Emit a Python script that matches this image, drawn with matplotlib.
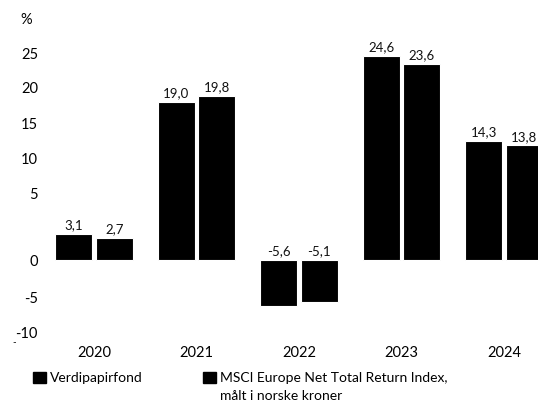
import matplotlib
matplotlib.use("Agg")
import matplotlib.pyplot as plt
from matplotlib.patches import Rectangle
import numpy as np

plt.rcParams['font.family'] = ['Lato', 'DejaVu Sans']

years = ['2020', '2021', '2022', '2023', '2024']
fund = [3.1, 19.0, -5.6, 24.6, 14.3]
index = [2.7, 19.8, -5.1, 23.6, 13.8]
fund_labels = ['3,1', '19,0', '-5,6', '24,6', '14,3']
index_labels = ['2,7', '19,8', '-5,1', '23,6', '13,8']

# y tick labels sit where the original chart puts them (not evenly spaced)
ytick_pos = [24.9, 20.8, 16.5, 12.2, 8.0, 0.0, -4.5, -8.7]
ytick_labels = ['25', '20', '15', '10', '5', '0', '-5', '-10']

W, H = 538, 407
fig = plt.figure(figsize=(W / 100, H / 100), dpi=100)

# zero line at px 260, 8.3 px per unit, ylim -10..30
ax = fig.add_axes([0, 1 - 343 / H, 1, (343 - 11) / H])
ax.set_xlim(-94 / 102.5, (538 - 94) / 102.5)
ax.set_ylim(-10, 30)

x = np.arange(len(years))
off, w = 0.197, 0.36
b1 = ax.bar(x - off, fund, w, color='black', edgecolor='white', linewidth=0.8)
b2 = ax.bar(x + off, index, w, color='black', edgecolor='white', linewidth=0.8)

for bars, labels in [(b1, fund_labels), (b2, index_labels)]:
    for bar, lab in zip(bars, labels):
        top = max(bar.get_height(), 0)
        ax.annotate(lab, (bar.get_x() + bar.get_width() / 2, top),
                    xytext=(0, 2), textcoords='offset points',
                    ha='center', va='bottom', fontsize=9.5, color='#111111')

for s in ax.spines.values():
    s.set_visible(False)

ax.set_xticks(x)
ax.set_xticklabels(years, fontsize=10.5)
ax.tick_params(axis='x', length=0, pad=2)

ax.set_yticks(ytick_pos)
ax.set_yticklabels(ytick_labels, fontsize=10.5)
ax.tick_params(axis='y', length=0, pad=-38 * 0.72)
for t in ax.get_yticklabels():
    t.set_horizontalalignment('right')

fig.text(20 / W, 1 - 20 / H, '%', fontsize=10.5, va='center', ha='left')
fig.text(12 / W, 1 - 343 / H, '-', fontsize=7, va='center', ha='left')

# legend
for lx, ly in [(33, 372), (203, 372)]:
    fig.add_artist(Rectangle((lx / W, 1 - (ly + 11) / H), 13 / W, 11 / H,
                             transform=fig.transFigure, color='black'))
fig.text(50 / W, 1 - 378 / H, 'Verdipapirfond', fontsize=10, va='center')
fig.text(220 / W, 1 - 378 / H, 'MSCI Europe Net Total Return Index,', fontsize=10, va='center')
fig.text(220 / W, 1 - 396 / H, 'målt i norske kroner', fontsize=10, va='center')

fig.savefig('out.png', dpi=100)
